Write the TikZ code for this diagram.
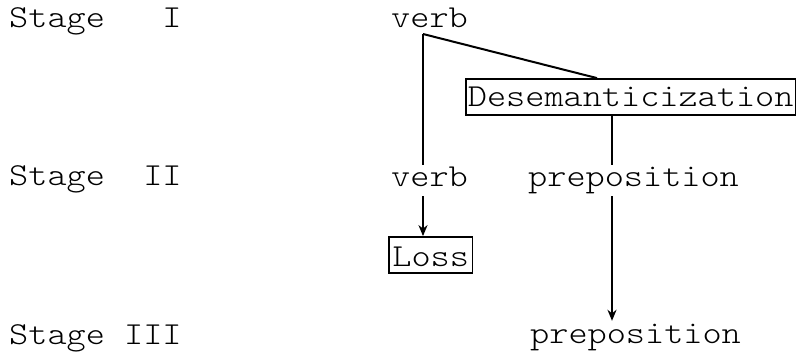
\documentclass[tikz,border=0pt]{standalone}
\usepackage{fontspec}
\newfontfamily\typewriter[FakeStretch=1.14]{lmmonolt10-regular.otf}
\usetikzlibrary{arrows.meta}
\begin{document}
\begin{tikzpicture}[x=1pt,y=-1pt,
  every node/.style={font=\typewriter\fontsize{32}{38}\selectfont, inner sep=0pt},
  word/.style={anchor=base west, text height=21pt, text depth=8pt, inner sep=1pt},
  boxed/.style={draw, line width=1.8pt, anchor=base west},
  link/.style={line width=2pt},
  arrowlink/.style={line width=2pt, -{Stealth[length=11pt,width=9pt,inset=3.5pt]}}]
  \useasboundingbox (0,0) rectangle (798,358);

  % stage labels
  \node[word] (s1) at (8,28)  {Stage~~~I};
  \node[word] (s2) at (8,186) {Stage~~II};
  \node[word] (s3) at (8,344) {Stage~III};

  % words
  \node[word] (verb1) at (390,28)  {verb};
  \node[word] (verb2) at (390,187) {verb};
  \node[word] (prep2) at (527,187) {preposition};
  \node[word] (prep3) at (529,343) {preposition};

  % boxed processes
  \node[boxed, text height=26pt, text depth=6pt, inner xsep=2pt, inner ysep=2pt]
    (desem) at (465,107) {Desemanticization};
  \node[boxed, text height=26pt, text depth=4pt, inner xsep=3.5pt, inner ysep=3pt]
    (loss) at (388,266) {Loss};

  \coordinate (corner) at (423,34);
  \coordinate (split) at (597,0);

  % connectors
  \draw[link] (corner) -- (desem.north -| split);
  \draw[link] (corner) -- (verb2.north -| corner);
  \draw[arrowlink] (verb2.south -| corner) -- (loss.north -| corner);
  \coordinate (down) at (612,0);
  \draw[link] (desem.south -| down) -- (prep2.north -| down);
  \draw[arrowlink] (prep2.south -| down) -- (prep3.north -| down);
\end{tikzpicture}
\end{document}
